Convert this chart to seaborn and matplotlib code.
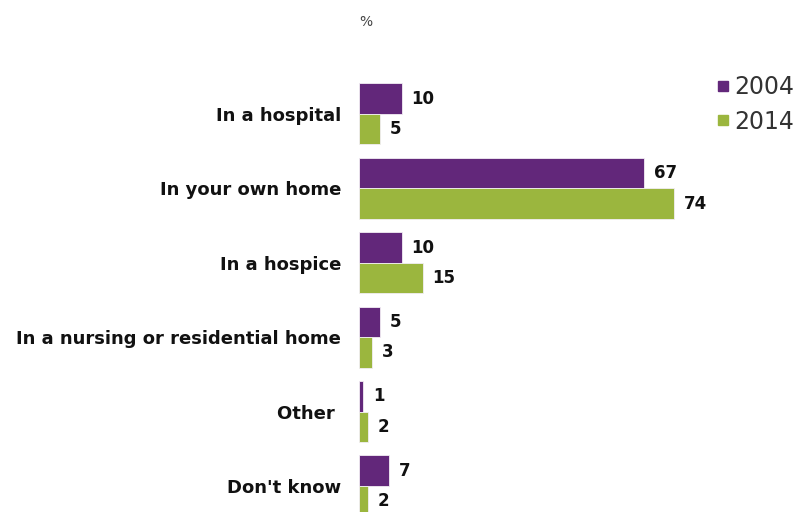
import matplotlib
matplotlib.use("Agg")
import matplotlib.pyplot as plt
from matplotlib.lines import Line2D
import pandas as pd
import seaborn as sns

places = [
    "In a hospital",
    "In your own home",
    "In a hospice",
    "In a nursing or residential home",
    "Other ",
    "Don't know",
]
years = ["2004", "2014"]
share_2004 = [10, 67, 10, 5, 1, 7]
share_2014 = [5, 74, 15, 3, 2, 2]

colors = {"2004": "#62277a", "2014": "#9bb63e"}

df = pd.DataFrame({
    "place": places * 2,
    "year": [years[0]] * len(places) + [years[1]] * len(places),
    "share": share_2004 + share_2014,
})

sns.set_theme(style="white")
plt.rcParams["font.family"] = ["DejaVu Sans"]

fig = plt.figure(figsize=(7.99, 5.12), dpi=100)
ax = fig.add_axes([0.4493, -0.0363, 0.5325, 0.959])

sns.barplot(
    data=df, y="place", x="share", hue="year", order=places, hue_order=years,
    palette=colors, saturation=1, orient="h", width=0.82,
    edgecolor="#f2eef4", linewidth=0.6, ax=ax, legend=False,
)

for cont in ax.containers:
    ax.bar_label(cont, padding=7, fontsize=12, fontweight="bold", color="#111111")

ax.set_xlim(0, 100)
ax.set_ylim(5.6, -1.0)
ax.set_xlabel("")
ax.set_ylabel("")
ax.set_xticks([])
ax.tick_params(axis="y", length=0, pad=13)
for lbl in ax.get_yticklabels():
    lbl.set_fontweight("bold")
    lbl.set_fontsize(13)
    lbl.set_color("#111111")
sns.despine(ax=ax, left=True, bottom=True)

fig.text(0.449, 0.957, "%", fontsize=10, color="#444444", ha="left", va="center")

handles = [
    Line2D([], [], marker="s", linestyle="none", markersize=7.5,
           markerfacecolor=colors[y], markeredgecolor=colors[y])
    for y in years
]
fig.legend(handles, years, loc="upper left", bbox_to_anchor=(0.886, 0.872),
           frameon=False, fontsize=17, handlelength=0.45, handletextpad=0.25,
           labelspacing=0.45, labelcolor="#333333", borderaxespad=0)

fig.savefig("out.png", dpi=100)
